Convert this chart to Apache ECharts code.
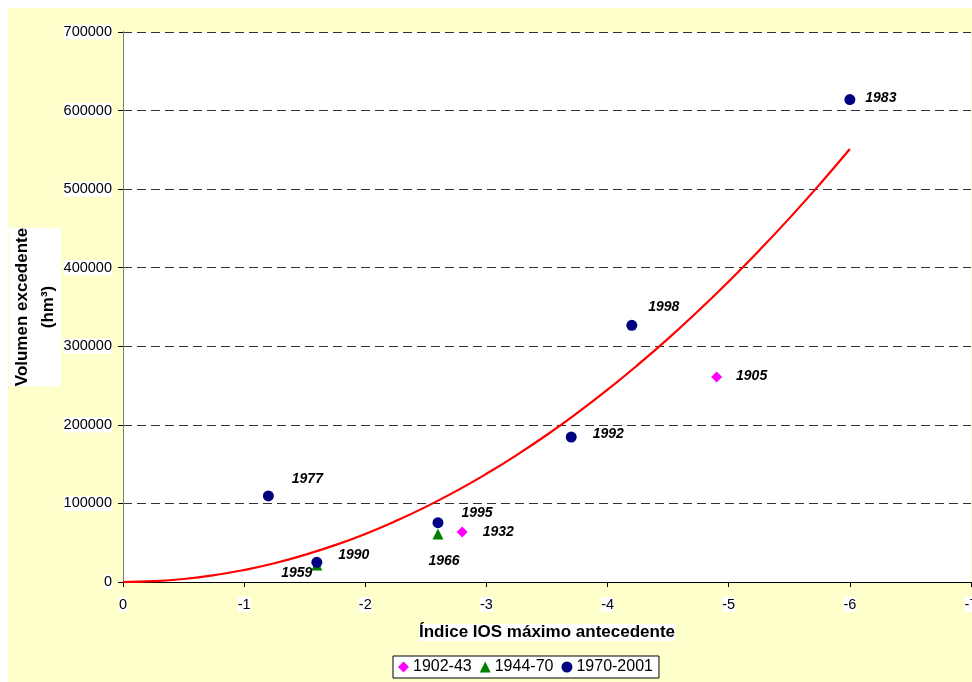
<!DOCTYPE html>
<html>
<head>
<meta charset="utf-8">
<script src="https://cdn.jsdelivr.net/npm/echarts@6/dist/echarts.min.js"></script>
<style>
html,body{margin:0;padding:0;background:#fff;}
#c{width:972px;height:682px;}
</style>
</head>
<body>
<div id="c"></div>
<script>
// ---- data ----
const xTicks = [0, -1, -2, -3, -4, -5, -6, -7];
const yTicks = [0, 100000, 200000, 300000, 400000, 500000, 600000, 700000];

const seriesNames = ['1902-43', '1944-70', '1970-2001'];

const years1902 = ['1905', '1932'];
const ios1902 = [-4.9, -2.8];
const vol1902 = [261000, 63600];

const years1944 = ['1959', '1966'];
const ios1944 = [-1.6, -2.6];
const vol1944 = [21600, 61000];

const years1970 = ['1977', '1990', '1995', '1992', '1998', '1983'];
const ios1970 = [-1.2, -1.6, -2.6, -3.7, -4.2, -6.0];
const vol1970 = [109500, 25000, 75500, 184500, 326700, 614000];

// trend curve
const curveX = [0, -0.25, -0.5, -0.75, -1, -1.25, -1.5, -1.75, -2, -2.25, -2.5, -2.75, -3,
  -3.25, -3.5, -3.75, -4, -4.25, -4.5, -4.75, -5, -5.25, -5.5, -5.75, -6];
const curveY = [0, 1000, 3800, 8600, 15300, 23900, 34500, 46900, 61200, 77500, 95600, 115700, 137700,
  161600, 187400, 215200, 244800, 276400, 309800, 345200, 382500, 421700, 462800, 505900, 551000];

// ---- style (label placement relative to the marker) ----
const labelOffset = {
  '1905': [35, -1], '1932': [36, 0],
  '1959': [-20, 8], '1966': [6, 27],
  '1977': [39, -17], '1990': [37, -7], '1995': [39, -10],
  '1992': [37, -3], '1998': [32, -18], '1983': [31, -1]
};

const FONT = '"Liberation Sans", Arial, sans-serif';

function pts(xs, ys, names) {
  return xs.map((x, i) => ({
    value: [x, ys[i]],
    name: names[i],
    label: {
      show: true,
      position: 'inside',
      offset: labelOffset[names[i]],
      formatter: names[i],
      fontFamily: FONT,
      fontSize: 14,
      fontWeight: 'bold',
      fontStyle: 'italic',
      color: '#000',
      opacity: 1
    }
  }));
}

const chart = echarts.init(document.getElementById('c'), null, {renderer: 'canvas'});

const option = {
  animation: false,
  backgroundColor: '#fff',
  textStyle: {fontFamily: FONT},
  graphic: [{
    type: 'rect', z: -10, silent: true,
    shape: {x: 8, y: 8, width: 972, height: 682},
    style: {fill: '#FFFFCC'}
  }, {
    type: 'rect', z: -9, silent: true,
    shape: {x: 123, y: 32, width: 848, height: 550},
    style: {fill: '#FFFFFF'}
  }],
  grid: {left: 123, top: 32, width: 848, height: 550, show: false, containLabel: false, outerBoundsMode: 'none'},
  legend: {
    data: seriesNames,
    left: 393, top: 656,
    orient: 'horizontal',
    backgroundColor: '#fff',
    borderColor: '#000', borderWidth: 1,
    borderRadius: 0,
    padding: [3, 6, 3, 5],
    itemGap: 8,
    itemWidth: 11, itemHeight: 11,
    itemStyle: {opacity: 1},
    textStyle: {fontFamily: FONT, fontSize: 16, color: '#000', padding: [0, 0, 0, -1]}
  },
  xAxis: {
    type: 'value',
    min: -7, max: 0, interval: 1,
    inverse: true,
    name: 'Índice IOS máximo antecedente',
    nameLocation: 'middle',
    nameGap: 42,
    nameMoveOverlap: false,
    nameTextStyle: {fontFamily: FONT, fontSize: 17, fontWeight: 'bold', color: '#000', backgroundColor: '#fff'},
    axisLine: {show: true, onZero: false, lineStyle: {color: '#000', width: 1}},
    axisTick: {show: true, length: 5, inside: false, lineStyle: {color: '#000'}},
    axisLabel: {
      margin: 15, fontFamily: FONT, fontSize: 14.5, color: '#000', backgroundColor: '#fff',
      formatter: v => String(v), showMaxLabel: true, showMinLabel: true
    },
    splitLine: {show: false}
  },
  yAxis: [{
    type: 'value',
    min: 0, max: 700000, interval: 100000,
    name: 'Volumen excedente\n(hm³)',
    nameLocation: 'middle',
    nameRotate: 90,
    nameGap: 62,
    nameMoveOverlap: false,
    nameTextStyle: {fontFamily: FONT, fontSize: 17, fontWeight: 'bold', color: '#000', lineHeight: 26, backgroundColor: '#fff', align: 'center'},
    axisLine: {show: true, onZero: false, lineStyle: {color: '#000', width: 1}},
    axisTick: {show: true, length: 5, lineStyle: {color: '#000'}},
    axisLabel: {
      margin: 11, fontFamily: FONT, fontSize: 14.5, color: '#000', backgroundColor: '#fff',
      formatter: v => String(v)
    },
    splitLine: {show: true, lineStyle: {color: '#333', type: [9, 5], width: 1}}
  }, {
    type: 'value', position: 'right',
    min: 0, max: 700000, interval: 100000,
    axisLine: {show: true, lineStyle: {color: '#808080', width: 1}},
    axisTick: {show: false}, axisLabel: {show: false}, splitLine: {show: false}
  }],
  series: [{
    name: 'trend', type: 'line', smooth: true, showSymbol: false, symbol: 'none',
    data: curveX.map((x, i) => [x, curveY[i]]),
    lineStyle: {color: '#FF0000', width: 2.2},
    z: 2, silent: true
  }, {
    name: seriesNames[0], type: 'scatter', symbol: 'diamond', symbolSize: 11,
    itemStyle: {color: '#FF00FF', opacity: 1},
    data: pts(ios1902, vol1902, years1902), z: 3
  }, {
    name: seriesNames[1], type: 'scatter', symbol: 'triangle', symbolSize: 11,
    itemStyle: {color: '#008000', opacity: 1},
    data: pts(ios1944, vol1944, years1944), z: 3
  }, {
    name: seriesNames[2], type: 'scatter', symbol: 'circle', symbolSize: 11,
    itemStyle: {color: '#000080', opacity: 1},
    data: pts(ios1970, vol1970, years1970), z: 4
  }]
};
chart.setOption(option);
</script>
</body>
</html>
